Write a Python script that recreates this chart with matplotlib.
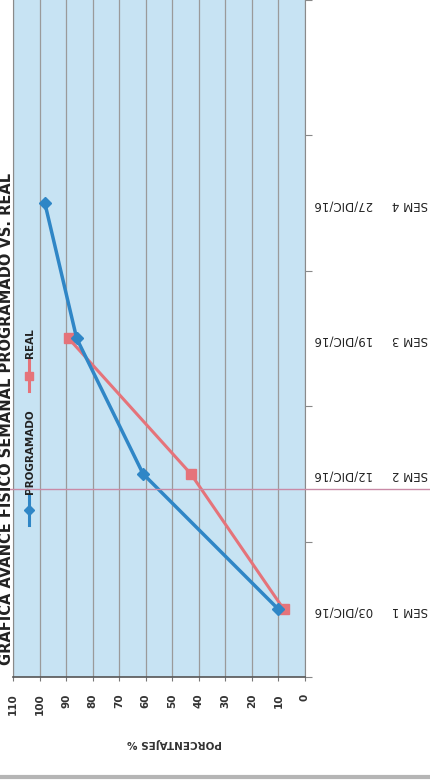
import numpy as np
import matplotlib
matplotlib.use("Agg")
import matplotlib.pyplot as plt
from matplotlib.lines import Line2D

semanas = ["SEM 1", "SEM 2", "SEM 3", "SEM 4"]
fechas = ["03/DIC/16", "12/DIC/16", "19/DIC/16", "27/DIC/16"]
programado = [10, 61, 86, 98]
real = [8, 43, 89]

pct_ticks = list(range(0, 111, 10))

blue = "#2f86c6"
red = "#e5737a"

fig = plt.figure(figsize=(4.3, 7.8), dpi=100)
fig.patch.set_facecolor("white")

# page is rotated: percent runs horizontally (110 left, 0 right), weeks go up
ax = fig.add_axes([13 / 430, 1 - 677 / 780, 292 / 430, 677 / 780])
ax.set_facecolor("#c7e3f3")

y_pos = np.arange(len(semanas))
ax.plot(programado, y_pos[:len(programado)], color=blue, lw=2.5,
        marker="D", ms=6, mfc=blue, mec=blue, zorder=4)
ax.plot(real, y_pos[:len(real)], color=red, lw=2.2,
        marker="s", ms=7.5, mfc=red, mec=red, zorder=3)

ax.set_xlim(110, 0)
ax.set_ylim(-0.5, 4.5)

# percent axis (bottom)
ax.set_xticks(pct_ticks)
ax.set_xticklabels([str(v) for v in pct_ticks], rotation=90,
                   fontsize=7.5, fontweight="bold", color="#333333")
ax.tick_params(axis="x", direction="out", length=3, pad=9, color="#777777")
ax.grid(axis="x", color="#9a9a9a", lw=0.9)
ax.set_axisbelow(True)

# week axis (right side, labels upside down)
ax.yaxis.tick_right()
ax.set_yticks(np.arange(-0.5, 4.6, 1))
ax.set_yticklabels([])
ax.set_yticks(y_pos, minor=True)
ax.set_yticklabels([f"{s}     {f}" for s, f in zip(semanas, fechas)],
                   minor=True, rotation=180, fontsize=8.5, color="#222222")
ax.tick_params(axis="y", which="major", direction="out", length=5,
               color="#888888")
ax.tick_params(axis="y", which="minor", length=0, pad=7)

ax.spines["top"].set_visible(False)
ax.spines["left"].set_color("#8a8a8a")
ax.spines["right"].set_color("#8a8a8a")
ax.spines["bottom"].set_color("#555555")
ax.spines["bottom"].set_linewidth(1.2)

# manual legend, rotated like the page
def ax_pt(px, py):
    return ((px - 13) / 292, (677 - py) / 677)

x0, y0 = ax_pt(29, 525)
x1, y1 = ax_pt(29, 495)
ax.add_line(Line2D([x0, x1], [y0, y1], transform=ax.transAxes, color=blue,
                   lw=2.2, clip_on=False))
ax.plot([x0], [(y0 + y1) / 2], transform=ax.transAxes, marker="D", ms=5,
        color=blue, clip_on=False)
tx, ty = ax_pt(30, 452)
ax.text(tx, ty, "PROGRAMADO", transform=ax.transAxes, rotation=90,
        ha="center", va="center", fontsize=7.5, fontweight="bold",
        color="#222222")

x0, y0 = ax_pt(29, 391)
x1, y1 = ax_pt(29, 360)
ax.add_line(Line2D([x0, x1], [y0, y1], transform=ax.transAxes, color=red,
                   lw=2.2, clip_on=False))
ax.plot([x0], [(y0 + y1) / 2], transform=ax.transAxes, marker="s", ms=5.5,
        color=red, clip_on=False)
tx, ty = ax_pt(30, 343)
ax.text(tx, ty, "REAL", transform=ax.transAxes, rotation=90,
        ha="center", va="center", fontsize=7.5, fontweight="bold",
        color="#222222")

# axis label and title
fig.text(174 / 430, 1 - 743 / 780, "PORCENTAJES %", rotation=180,
         ha="center", va="center", fontsize=7.5, fontweight="bold",
         color="#333333")
fig.text(7 / 430, 1 - 419 / 780,
         "GRAFICA AVANCE FISICO SEMANAL PROGRAMADO VS. REAL",
         rotation=90, ha="center", va="center", fontsize=10.5,
         fontweight="bold", color="#222222")

# scan artefacts: pink line across the page, grey edge at the bottom
fig.add_artist(Line2D([0, 1], [1 - 489 / 780] * 2, transform=fig.transFigure,
                      color="#c98aa6", lw=1.0))
fig.add_artist(Line2D([0, 1], [1 - 777 / 780] * 2, transform=fig.transFigure,
                      color="#b5b5b5", lw=3))

fig.savefig("out.png", dpi=100, facecolor="white")
